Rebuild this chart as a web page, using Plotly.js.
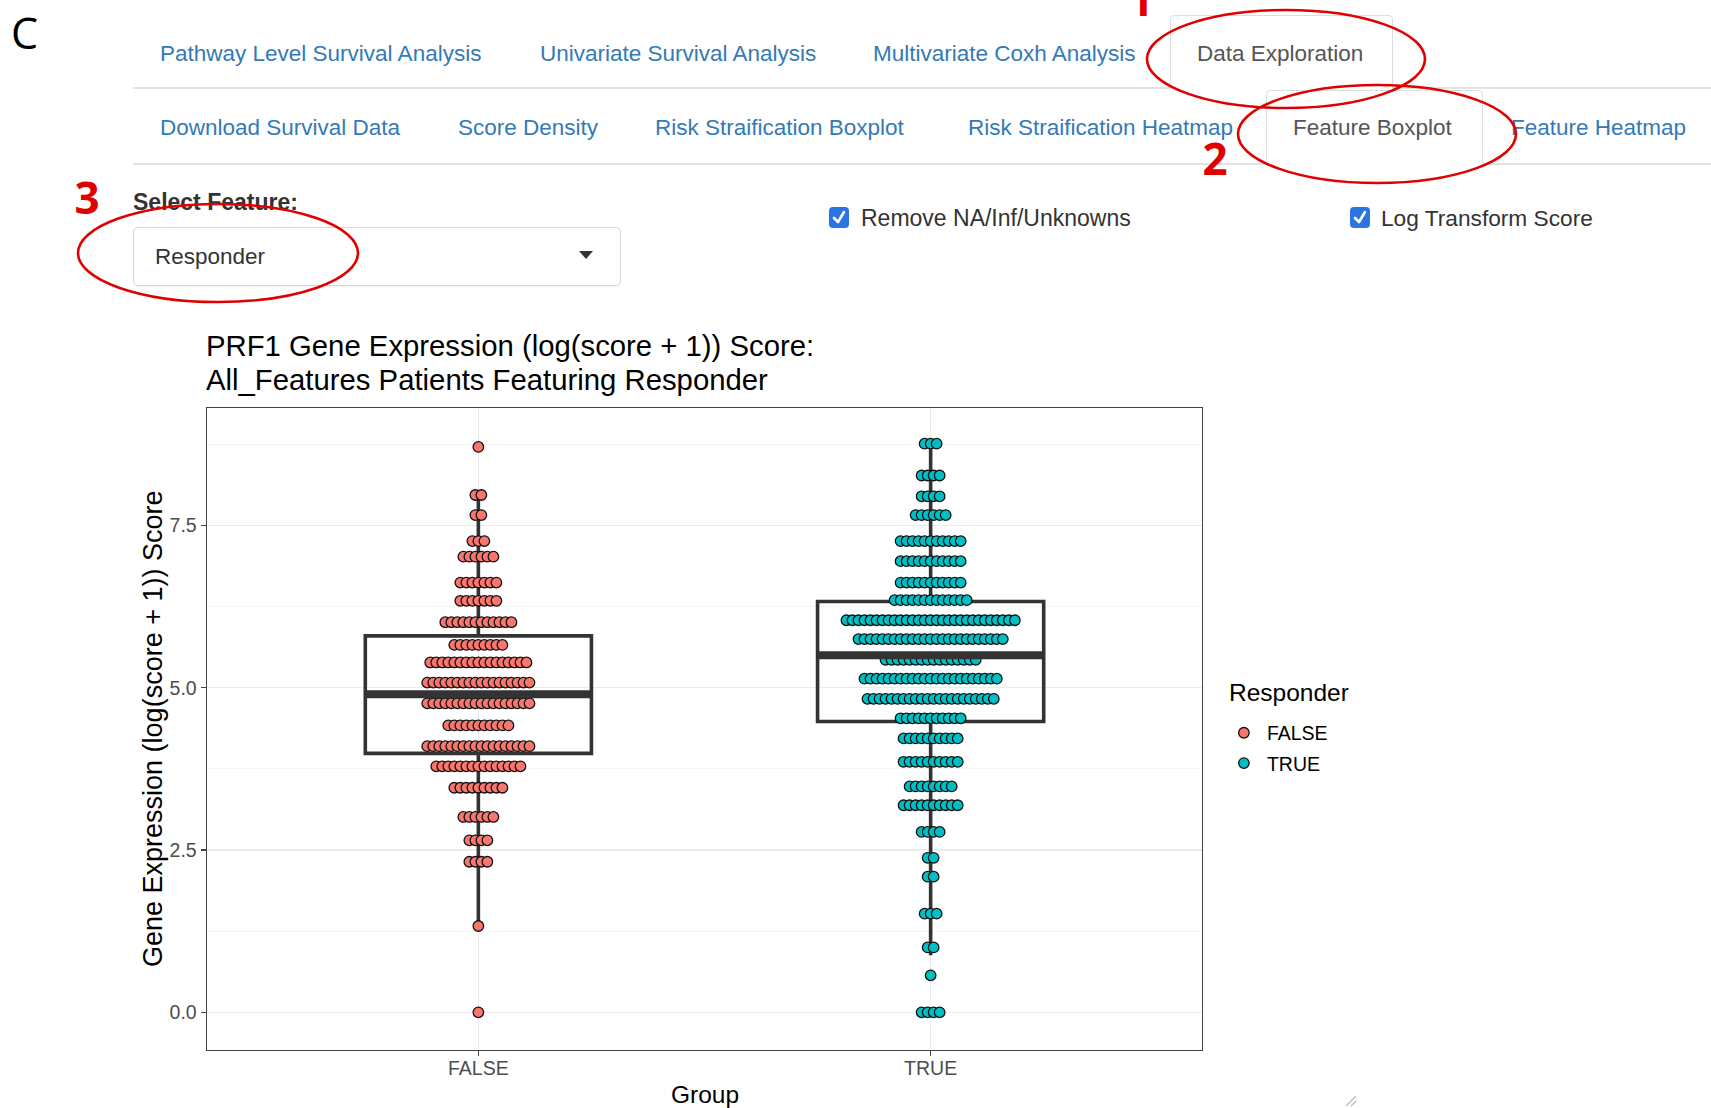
<!DOCTYPE html>
<html>
<head>
<meta charset="utf-8">
<script src="https://cdn.plot.ly/plotly-3.0.1.min.js"></script>
<style>
  html, body { margin:0; padding:0; background:#fff; }
  body { width:1711px; height:1108px; position:relative; overflow:hidden; font-family:"Liberation Sans", Arial, sans-serif; }
  #chart { position:absolute; left:0; top:0; width:1711px; height:1108px; }
  .abs { position:absolute; white-space:nowrap; }
  .tab { position:absolute; white-space:nowrap; font-size:22.5px; color:#337ab7; height:30px; line-height:30px; }
  .tab.active { color:#555; }
  .tabbox { position:absolute; border:1px solid #ddd; border-bottom:none; border-radius:5px 5px 0 0; background:#fff; }
  .sep { position:absolute; height:2px; background:#e3e3e3; }
  .cb { position:absolute; width:20px; height:21px; background:#2b74e4; border-radius:4px; }
  #overlay { position:absolute; left:0; top:0; width:1711px; height:1108px; pointer-events:none; }
</style>
</head>
<body>
<div id="chart"></div>

<!-- Shiny-like UI -->
<div class="abs" style="left:11px; top:8px; font-family:'Open Sans',sans-serif; font-size:43px; line-height:50px; color:#000;">C</div>

<div class="sep" style="left:133px; top:87px; width:1578px;"></div>
<div class="tabbox" style="left:1170px; top:15px; width:221px; height:74px;"></div>
<div class="tab" style="left:160px; top:39px;">Pathway Level Survival Analysis</div>
<div class="tab" style="left:540px; top:39px;">Univariate Survival Analysis</div>
<div class="tab" style="left:873px; top:39px;">Multivariate Coxh Analysis</div>
<div class="tab active" style="left:1197px; top:39px;">Data Exploration</div>

<div class="sep" style="left:133px; top:163px; width:1578px;"></div>
<div class="tabbox" style="left:1266px; top:90px; width:215px; height:75px;"></div>
<div class="tab" style="left:160px; top:113px;">Download Survival Data</div>
<div class="tab" style="left:458px; top:113px;">Score Density</div>
<div class="tab" style="left:655px; top:113px;">Risk Straification Boxplot</div>
<div class="tab" style="left:968px; top:113px;">Risk Straification Heatmap</div>
<div class="tab active" style="left:1293px; top:113px;">Feature Boxplot</div>
<div class="tab" style="left:1511px; top:113px;">Feature Heatmap</div>

<div class="abs" style="left:133px; top:187px; font-size:23px; font-weight:bold; color:#333; line-height:30px;">Select Feature:</div>
<div class="abs" style="left:133px; top:227px; width:486px; height:57px; border:1px solid #d6d6d6; border-radius:5px; box-shadow:0 1px 2px rgba(0,0,0,0.06);"></div>
<div class="abs" style="left:155px; top:242px; font-size:22.5px; color:#333; line-height:30px;">Responder</div>
<svg class="abs" style="left:578px; top:250px;" width="16" height="10"><path d="M1,1 L15,1 L8,9 Z" fill="#333"/></svg>

<div class="cb" style="left:829px; top:207px;"><svg width="20" height="21"><path d="M5,11 L9,15 L15,5" stroke="#fff" stroke-width="2.6" fill="none" stroke-linecap="round" stroke-linejoin="round"/></svg></div>
<div class="abs" style="left:861px; top:203px; font-size:23px; color:#333; line-height:30px;">Remove NA/Inf/Unknowns</div>
<div class="cb" style="left:1350px; top:207px;"><svg width="20" height="21"><path d="M5,11 L9,15 L15,5" stroke="#fff" stroke-width="2.6" fill="none" stroke-linecap="round" stroke-linejoin="round"/></svg></div>
<div class="abs" style="left:1381px; top:203px; font-size:22.7px; color:#333; line-height:30px;">Log Transform Score</div>

<svg id="overlay" width="1711" height="1108">
  <g fill="none" stroke="#e00000" stroke-width="2.6">
    <ellipse cx="1286" cy="59" rx="139" ry="49"/>
    <ellipse cx="1377" cy="134" rx="139" ry="49"/>
    <ellipse cx="218" cy="253" rx="140" ry="49"/>
  </g>
  <g fill="#e00000" font-family="Open Sans, sans-serif" font-weight="700" font-size="44" text-anchor="middle">
    <text x="1141" y="16">1</text>
    <text x="1215" y="175">2</text>
    <text x="87" y="214">3</text>
  </g>
  <g stroke="#bbb" stroke-width="1.3">
    <line x1="1346" y1="1106" x2="1356" y2="1096"/>
    <line x1="1351" y1="1106" x2="1356" y2="1101"/>
  </g>
</svg>

<script>
// ---------- data ----------
const groups = ["FALSE", "TRUE"];
const groupColors = ["#F8766D", "#00BFC4"];

// binned dot rows: score value of each row and number of patients in it
const falseRowValues = [8.71, 7.97, 7.66, 7.26, 7.02, 6.62, 6.34, 6.01, 5.66, 5.39, 5.08, 4.76, 4.42, 4.10, 3.79, 3.46, 3.01, 2.65, 2.32, 1.33, 0.00];
const falseRowCounts = [1,    2,    2,    3,    6,    7,    7,    12,   9,    17,   18,   18,   11,   18,   15,   9,    6,    4,    4,    1,    1];

const trueRowValues  = [8.76, 8.27, 7.95, 7.66, 7.26, 6.95, 6.62, 6.35, 6.04, 5.75, 5.43, 5.14, 4.83, 4.53, 4.22, 3.86, 3.48, 3.19, 2.78, 2.38, 2.09, 1.52, 1.00, 0.57, 0.00];
const trueRowCounts  = [3,    4,    4,    6,    11,   11,   11,   13,   29,   25,   16,   23,   22,   11,   10,   10,   8,    10,   4,    2,    2,    3,    2,    1,    4];

// box statistics
const boxQ1     = [3.99, 4.48];
const boxMedian = [4.90, 5.50];
const boxQ3     = [5.80, 6.33];
const boxLower  = [1.33, 0.88];
const boxUpper  = [7.97, 8.76];

const yTickVals = [0, 2.5, 5, 7.5];
const yTickText = ["0.0", "2.5", "5.0", "7.5"];

const titleLines = ["PRF1 Gene Expression (log(score + 1)) Score:", "All_Features Patients Featuring Responder"];

// ---------- build ----------
const dotStep = 0.0133;   // horizontal spacing of stacked dots (x units)
const boxWidth = 0.5;

function dotTrace(gi, values, counts) {
  const xs = [], ys = [];
  values.forEach((v, r) => {
    const n = counts[r];
    for (let i = 0; i < n; i++) {
      xs.push(gi + 1 + (i - (n - 1) / 2) * dotStep);
      ys.push(v);
    }
  });
  return {
    type: "scatter", mode: "markers", x: xs, y: ys, name: groups[gi], legendgroup: groups[gi],
    marker: { color: groupColors[gi], size: 10.5, line: { color: "#111", width: 1.3 } },
    hoverinfo: "y", showlegend: true
  };
}

const traces = [
  dotTrace(0, falseRowValues, falseRowCounts),
  dotTrace(1, trueRowValues, trueRowCounts)
];

groups.forEach((g, gi) => {
  traces.push({
    type: "box", x: [gi + 1], q1: [boxQ1[gi]], median: [boxMedian[gi]], q3: [boxQ3[gi]],
    lowerfence: [boxLower[gi]], upperfence: [boxUpper[gi]],
    width: boxWidth, fillcolor: "rgba(0,0,0,0)", boxpoints: false,
    line: { color: "#333333", width: 3.6 }, whiskerwidth: 0,
    showlegend: false, hoverinfo: "skip"
  });
  traces.push({
    type: "scatter", mode: "lines",
    x: [gi + 1 - boxWidth / 2, gi + 1 + boxWidth / 2], y: [boxMedian[gi], boxMedian[gi]],
    line: { color: "#333333", width: 8 }, showlegend: false, hoverinfo: "skip"
  });
});

const layout = {
  width: 1711, height: 1108,
  margin: { l: 207, r: 509, t: 408, b: 58, pad: 0 },
  paper_bgcolor: "rgba(0,0,0,0)", plot_bgcolor: "#fff",
  font: { family: "Liberation Sans, Arial, sans-serif", color: "#000" },
  showlegend: true,
  xaxis: {
    range: [0.4, 2.6], tickvals: [1, 2], ticktext: groups,
    showgrid: true, gridcolor: "#EBEBEB", gridwidth: 1.4, zeroline: false,
    showline: true, mirror: true, linecolor: "#444", linewidth: 1.4,
    ticks: "outside", ticklen: 5, tickwidth: 1.4, tickcolor: "#444",
    ticklabelstandoff: -5,
    tickfont: { size: 19.5, color: "#4D4D4D" }
  },
  yaxis: {
    range: [-0.58, 9.31], tickvals: yTickVals, ticktext: yTickText,
    showgrid: true, gridcolor: "#EBEBEB", gridwidth: 1.4, zeroline: false,
    showline: true, mirror: true, linecolor: "#444", linewidth: 1.4,
    ticks: "outside", ticklen: 5, tickwidth: 1.4, tickcolor: "#444",
    tickfont: { size: 19.5, color: "#4D4D4D" },
    minor: { tickvals: [1.25, 3.75, 6.25, 8.75], showgrid: true, gridcolor: "#F2F2F2", gridwidth: 0.8, ticks: "" }
  },
  legend: {
    font: { size: 19.5, color: "#000" },
    x: 1.019, xanchor: "left", y: 0.524, yanchor: "top",
    traceorder: "grouped", tracegroupgap: 2, itemwidth: 36,
    bgcolor: "rgba(0,0,0,0)", itemsizing: "trace"
  },
  annotations: [
    { xref: "paper", yref: "paper", x: 0, y: 1, xshift: -3, yshift: 63, xanchor: "left", yanchor: "middle",
      showarrow: false, text: titleLines[0], font: { size: 29.3, color: "#000" } },
    { xref: "paper", yref: "paper", x: 0, y: 1, xshift: -3, yshift: 29, xanchor: "left", yanchor: "middle",
      showarrow: false, text: titleLines[1], font: { size: 29.3, color: "#000" } },
    { xref: "paper", yref: "paper", x: 0, y: 0.5, xshift: -54, xanchor: "center", yanchor: "middle",
      textangle: -90, showarrow: false, text: "Gene Expression (log(score + 1)) Score",
      font: { size: 27, color: "#000" } },
    { xref: "paper", yref: "paper", x: 0.5, y: 0, yshift: -44, xanchor: "center", yanchor: "middle",
      showarrow: false, text: "Group", font: { size: 24.5, color: "#000" } },
    { xref: "paper", yref: "paper", x: 1.0255, y: 0.5575, xanchor: "left", yanchor: "middle",
      showarrow: false, text: "Responder", font: { size: 24.5, color: "#000" } }
  ]
};

Plotly.newPlot("chart", traces, layout, { staticPlot: true, displayModeBar: false });
</script>
</body>
</html>
